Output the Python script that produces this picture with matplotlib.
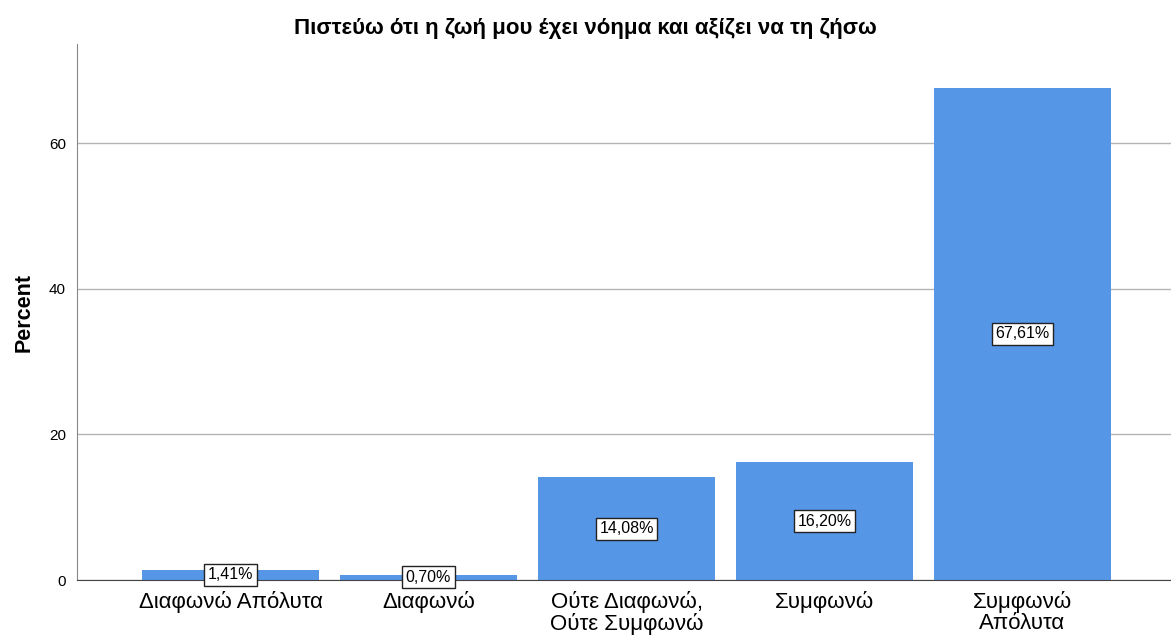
import matplotlib
matplotlib.use("Agg")
import matplotlib.pyplot as plt

categories = ["Διαφωνώ Απόλυτα", "Διαφωνώ", "Ούτε Διαφωνώ,\nΟύτε Συμφωνώ", "Συμφωνώ", "Συμφωνώ\nΑπόλυτα"]
percents = [1.41, 0.70, 14.08, 16.20, 67.61]
labels = ["1,41%", "0,70%", "14,08%", "16,20%", "67,61%"]

plt.rcParams['font.family'] = ['Liberation Sans', 'DejaVu Sans']

fig = plt.figure(figsize=(11.71, 6.35), dpi=100)
ax = fig.add_axes([0.0658, 0.0866, 0.9342, 0.8441])

x = range(len(categories))
ax.bar(x, percents, width=0.894, color='#5596e6', zorder=2)

for i, (v, lab) in enumerate(zip(percents, labels)):
    ax.text(i, v / 2, lab, ha='center', va='center', fontsize=11.5, zorder=3,
            bbox=dict(boxstyle='square,pad=0.22', fc='white', ec='#222222', lw=1))

ax.set_xlim(-0.775, 4.75)
ax.set_ylim(0, 73.6)
ax.set_yticks([0, 20, 40, 60])
ax.set_xticks(list(x))
ax.set_xticklabels(categories, fontsize=16, linespacing=0.98)
ax.tick_params(axis='y', labelsize=11, length=0, pad=8)
ax.tick_params(axis='x', length=0, pad=8)
ax.yaxis.grid(True, color='#b4b4b4', lw=1, zorder=0)

for s in ['top', 'right']:
    ax.spines[s].set_visible(False)
ax.spines['left'].set_color('#888888')
ax.spines['bottom'].set_color('#444444')

ax.set_ylabel('Percent', fontsize=15.5, fontweight='bold', labelpad=10)
fig.text(0.5, 0.955, 'Πιστεύω ότι η ζωή μου έχει νόημα και αξίζει να τη ζήσω',
         fontsize=16, fontweight='bold', ha='center', va='center')

fig.savefig('out.png', dpi=100)
